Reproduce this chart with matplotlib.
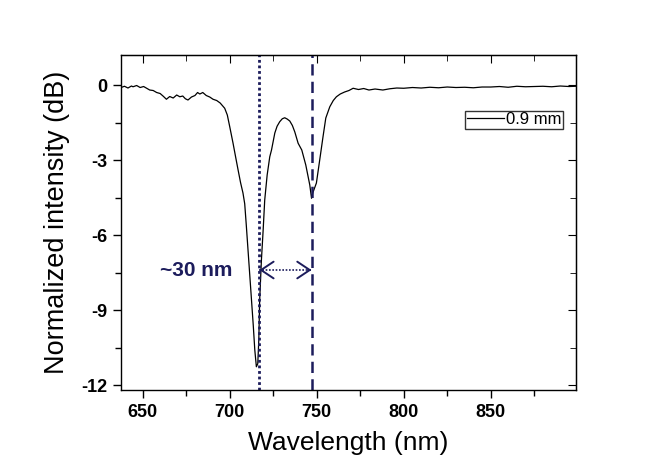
import matplotlib
matplotlib.use("Agg")
import matplotlib.pyplot as plt
from matplotlib.ticker import MultipleLocator

plt.rcParams['font.family'] = ['Liberation Sans', 'DejaVu Sans']

# Spectrum (0.9 mm)
wavelength = [637.5, 639.5, 641.5, 643.5, 644.4, 646.5, 648.5, 650.5, 652.5, 654.0,
              656.0, 658.0, 660.0, 661.8, 663.6, 665.5, 667.5, 669.5, 671.3, 673.0,
              674.5, 676.0, 678.0, 680.0, 681.5, 682.8, 684.5, 686.5, 688.5, 690.4,
              692.5, 694.5, 697.1, 698.6, 700.0, 701.9, 703.3, 704.8, 706.2, 707.6,
              708.6, 709.5, 710.5, 711.5, 712.5, 713.5, 714.4, 715.3, 716.1, 716.7,
              717.2, 718.2, 719.2, 720.1, 721.5, 723.0, 724.0, 725.9, 727.2, 728.7,
              730.2, 731.6, 733.0, 734.5, 736.0, 737.4, 739.3, 741.4, 743.7, 746.0,
              747.0, 747.7, 749.8, 751.7, 753.6, 755.2, 757.5, 759.5, 761.3, 763.5,
              766.0, 768.5, 770.9, 774.0, 777.0, 780.0, 783.5, 788.0, 792.0, 796.0,
              800.0, 805.0, 810.0, 815.0, 820.0, 825.0, 830.0, 835.0, 840.0, 845.0,
              850.0, 855.0, 860.0, 865.0, 870.0, 875.0, 880.0, 885.0, 890.0, 895.0,
              899.0]
intensity = [-0.10, -0.05, -0.12, -0.04, -0.07, -0.02, -0.10, -0.06, -0.14, -0.20,
             -0.22, -0.30, -0.34, -0.45, -0.57, -0.46, -0.52, -0.40, -0.47, -0.44,
             -0.55, -0.60, -0.48, -0.42, -0.30, -0.36, -0.30, -0.42, -0.48, -0.57,
             -0.62, -0.72, -0.93, -1.20, -1.67, -2.33, -2.85, -3.40, -3.90, -4.32,
             -4.75, -5.60, -6.60, -7.60, -8.60, -9.60, -10.60, -11.27, -11.15, -10.20,
             -8.60, -7.00, -5.80, -4.60, -3.60, -2.87, -2.60, -1.92, -1.65, -1.47,
             -1.35, -1.31, -1.36, -1.44, -1.62, -1.88, -2.33, -2.60, -3.20, -4.00,
             -4.53, -4.32, -3.92, -3.00, -2.07, -1.32, -0.87, -0.62, -0.47, -0.36,
             -0.28, -0.22, -0.13, -0.18, -0.14, -0.20, -0.16, -0.20, -0.15, -0.12,
             -0.13, -0.10, -0.12, -0.09, -0.11, -0.08, -0.10, -0.09, -0.11, -0.08,
             -0.08, -0.06, -0.09, -0.05, -0.07, -0.06, -0.05, -0.07, -0.04, -0.06,
             -0.05]

legend_label = "0.9 mm"
dip_lines = [717, 747]
arrow_level = -7.4
annotation = "~30 nm"
x_ticks = [650, 700, 750, 800, 850]
y_ticks = [0, -3, -6, -9, -12]

navy = '#1c1c5c'

fig = plt.figure(figsize=(6.7, 4.69), dpi=100)
ax = fig.add_axes([0.1806, 0.1684, 0.6791, 0.7143])

ax.plot(wavelength, intensity, color='black', lw=0.9, label=legend_label)

ax.axvline(dip_lines[0], color=navy, lw=2.0, ls=(0, (1.0, 1.0)))
ax.axvline(dip_lines[1], color=navy, lw=1.8, ls=(0, (4.5, 2.5)))

# double arrow
ax.plot(dip_lines, [arrow_level, arrow_level], color=navy, lw=1.2, ls=(0, (1, 1)))
for a, b in [(dip_lines[0], dip_lines[0] + 2), (dip_lines[1], dip_lines[1] - 2)]:
    ax.annotate('', xy=(a, arrow_level), xytext=(b, arrow_level),
                arrowprops=dict(arrowstyle='->,head_length=0.6,head_width=0.4',
                                color=navy, lw=1.4, shrinkA=0, shrinkB=0,
                                mutation_scale=15))
ax.text(680.5, arrow_level, annotation, color=navy, fontsize=15, fontweight='bold',
        ha='center', va='center')

ax.set_xlim(637.5, 899)
ax.set_ylim(-12.2, 1.2)
ax.set_xticks(x_ticks)
ax.set_yticks(y_ticks)
ax.set_yticklabels([str(t) for t in y_ticks])
ax.xaxis.set_minor_locator(MultipleLocator(25))
ax.yaxis.set_minor_locator(MultipleLocator(1.5))

for lab in ax.get_xticklabels() + ax.get_yticklabels():
    lab.set_fontweight('bold')
    lab.set_fontsize(13)

ax.tick_params(which='both', direction='out', top=False, right=False, width=1.0)
ax.tick_params(which='major', length=6, pad=4)
ax.tick_params(which='minor', length=4)
# mirrored inward ticks on top and right
sec_x = ax.secondary_xaxis('top')
sec_x.set_xticks(x_ticks)
sec_x.xaxis.set_minor_locator(MultipleLocator(25))
sec_x.tick_params(which='both', direction='in', labeltop=False)
sec_x.tick_params(which='major', length=6)
sec_x.tick_params(which='minor', length=4)
sec_y = ax.secondary_yaxis('right')
sec_y.set_yticks(y_ticks)
sec_y.yaxis.set_minor_locator(MultipleLocator(1.5))
sec_y.tick_params(which='both', direction='in', labelright=False)
sec_y.tick_params(which='major', length=6)
sec_y.tick_params(which='minor', length=4)

for sp in ax.spines.values():
    sp.set_linewidth(1.0)

ax.set_xlabel('Wavelength (nm)', fontsize=19, labelpad=7)
ax.set_ylabel('Normalized intensity (dB)', fontsize=19.5, labelpad=8)

leg = ax.legend(loc='upper right', bbox_to_anchor=(0.972, 0.834), fontsize=12,
                frameon=True, fancybox=False, edgecolor='black', handlelength=2.2,
                handletextpad=0.15, borderpad=0.1, borderaxespad=0)
leg.get_frame().set_linewidth(1.0)

fig.savefig('out.png', dpi=100)
